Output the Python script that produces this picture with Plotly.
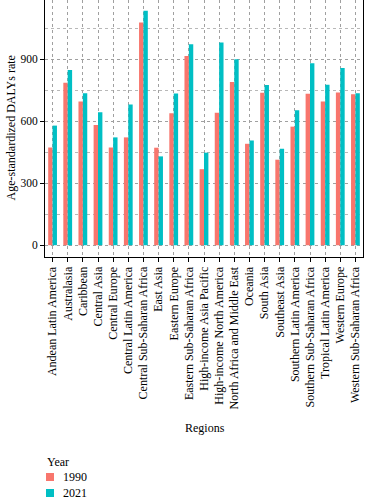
import plotly.graph_objects as go

regions = ["Andean Latin America", "Australasia", "Caribbean", "Central Asia", "Central Europe",
           "Central Latin America", "Central Sub-Saharan Africa", "East Asia", "Eastern Europe",
           "Eastern Sub-Saharan Africa", "High-income Asia Pacific", "High-income North America",
           "North Africa and Middle East", "Oceania", "South Asia", "Southeast Asia",
           "Southern Latin America", "Southern Sub-Saharan Africa", "Tropical Latin America",
           "Western Europe", "Western Sub-Saharan Africa"]
vals_1990 = [473, 787, 696, 582, 473, 522, 1078, 472, 639, 916, 368, 641, 790, 491, 738, 414, 574, 733, 696, 739, 731]
vals_2021 = [579, 848, 736, 644, 522, 681, 1135, 430, 735, 973, 448, 981, 900, 507, 775, 467, 653, 881, 777, 858, 736]
years = ["1990", "2021"]
colors = ["#F8766D", "#00BFC4"]
ytick_vals = [0, 300, 600, 900]

FONT = "Liberation Serif"
W, H = 365, 500
L, R, T, B = 45, 2, 0, 243
PW, PH = W - L - R, H - T - B


def px_x(x):
    return (x - L) / PW


def px_y(y):
    return (PH - y) / PH


fig = go.Figure()
for name, vals, col in zip(years, [vals_1990, vals_2021], colors):
    fig.add_trace(go.Bar(x=regions, y=vals, name=name, marker_color=col,
                         marker_line_width=0, showlegend=False))

fig.update_layout(
    width=W, height=H,
    margin=dict(l=L, r=R, t=T, b=B, autoexpand=False),
    paper_bgcolor="white", plot_bgcolor="white",
    barmode="group", bargap=0.42, bargroupgap=0,
    font=dict(family=FONT, size=12, color="black"),
    showlegend=False,
)
fig.update_xaxes(
    type="category", tickmode="array", tickvals=regions, tickangle=-90,
    ticks="outside", ticklen=4, tickcolor="black", automargin=False,
    tickfont=dict(size=12, family=FONT, color="black"),
    showline=True, linecolor="black", linewidth=1, mirror=True,
    showgrid=True, gridcolor="#a0a0a0", griddash="dot", gridwidth=1,
)
fig.update_yaxes(
    range=[-57, 1187], tickvals=ytick_vals, ticks="outside", ticklen=4, tickcolor="black",
    automargin=False,
    tickfont=dict(size=11.5, family=FONT, color="black"),
    showline=True, linecolor="black", linewidth=1, mirror=True,
    showgrid=True, gridcolor="#a0a0a0", griddash="dot", gridwidth=1,
    zeroline=False,
    minor=dict(tickvals=[150, 450, 750, 1050], showgrid=True, gridcolor="#b8b8b8",
               griddash="dot", gridwidth=1, ticks=""),
)
fig.add_annotation(text="Age-standardized DALYs rate", xref="paper", yref="paper",
                   x=px_x(10), y=0.5, xanchor="center", yanchor="middle", textangle=-90,
                   showarrow=False, font=dict(size=12, family=FONT, color="black"))
fig.add_annotation(text="Regions", xref="paper", yref="paper",
                   x=px_x(205), y=px_y(428), xanchor="center", yanchor="middle",
                   showarrow=False, font=dict(size=12, family=FONT, color="black"))

# legend (drawn manually for exact spacing)
fig.add_annotation(text="Year", xref="paper", yref="paper",
                   x=px_x(45), y=px_y(462), xanchor="left", yanchor="middle",
                   showarrow=False, font=dict(size=12, family=FONT, color="black"))
for i, (name, col) in enumerate(zip(years, colors)):
    cy = 477 + i * 16
    fig.add_shape(type="rect", xref="paper", yref="paper",
                  x0=px_x(46), x1=px_x(54), y0=px_y(cy - 4), y1=px_y(cy + 4),
                  fillcolor=col, line_width=0)
    fig.add_annotation(text=name, xref="paper", yref="paper",
                       x=px_x(61), y=px_y(cy), xanchor="left", yanchor="middle",
                       showarrow=False, font=dict(size=12, family=FONT, color="black"))

fig.write_html("out.html", config={"displayModeBar": False})

with open("out.html", "r", encoding="utf-8") as f:
    html = f.read()
html = html.replace("<head>", "<head><style>html,body{margin:0;padding:0;overflow:hidden;}</style>", 1)
with open("out.html", "w", encoding="utf-8") as f:
    f.write(html)
